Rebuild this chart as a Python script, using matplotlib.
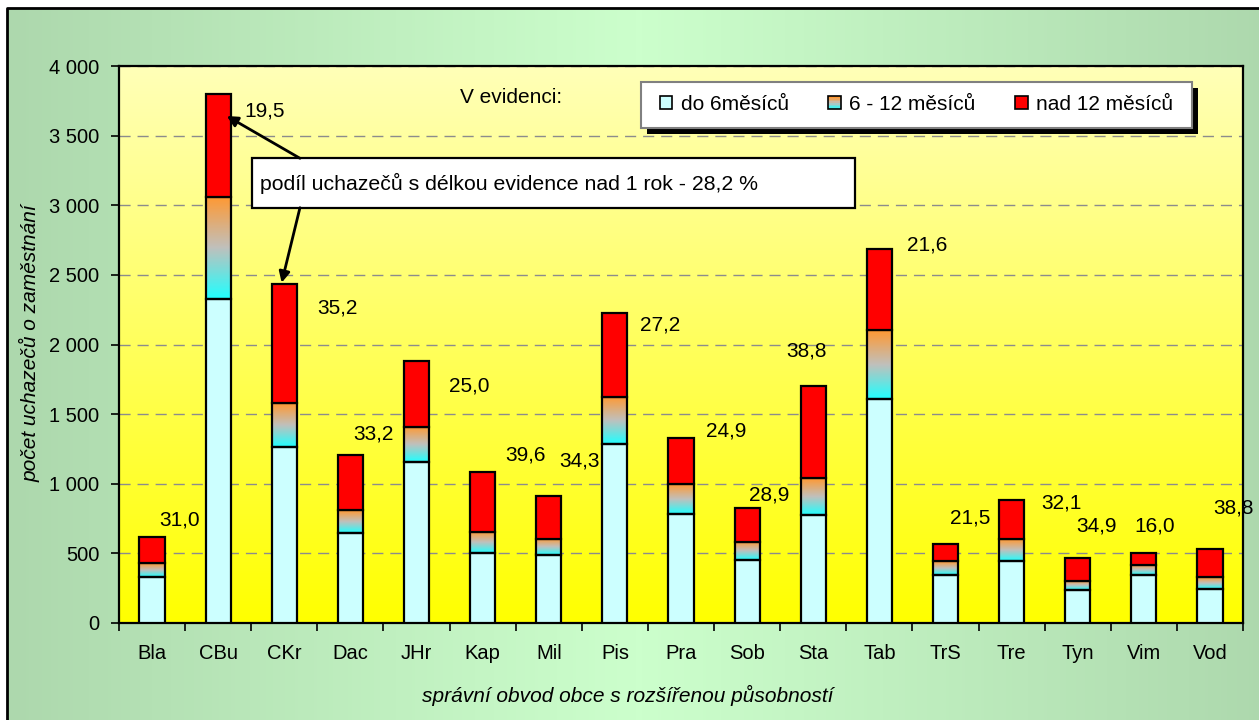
import numpy as np
import matplotlib
matplotlib.use('Agg')
import matplotlib.pyplot as plt
from matplotlib.colors import LinearSegmentedColormap
from matplotlib.patches import Rectangle, Patch
from matplotlib.legend_handler import HandlerBase
import matplotlib.ticker as mticker

plt.rcParams['font.family'] = ['Liberation Sans', 'DejaVu Sans']

# data
obvody = ['Bla', 'CBu', 'CKr', 'Dac', 'JHr', 'Kap', 'Mil', 'Pis', 'Pra',
          'Sob', 'Sta', 'Tab', 'TrS', 'Tre', 'Tyn', 'Vim', 'Vod']
do_6 = [330, 2325, 1265, 645, 1155, 500, 485, 1285, 785, 455, 775, 1610, 345, 445, 235, 345, 245]
m6_12 = [100, 735, 315, 165, 255, 155, 115, 340, 210, 130, 265, 495, 100, 155, 70, 75, 85]
nad_12 = [190, 740, 855, 400, 470, 430, 310, 600, 330, 240, 665, 580, 120, 285, 165, 80, 205]
podil = [31.0, 19.5, 35.2, 33.2, 25.0, 39.6, 34.3, 27.2, 24.9, 28.9, 38.8, 21.6, 21.5, 32.1, 34.9, 16.0, 38.8]
legend_labels = ['do 6měsíců', '6 - 12 měsíců', 'nad 12 měsíců']

# where the percentage labels sit (data coords)
lab_x = [0.42, 1.71, 2.80, 3.35, 4.79, 5.65, 6.46, 7.68, 8.68, 9.34, 9.90, 11.72, 12.37, 13.75, 14.29, 15.16, 16.35]
lab_y = [740, 3677, 2262, 1357, 1704, 1209, 1166, 2140, 1381, 919, 1953, 2715, 752, 860, 699, 699, 824]

W, H = 1259, 720
fig = plt.figure(figsize=(W / 100, H / 100), dpi=100)
fig.patch.set_facecolor('white')

# green background, darker at the sides
green = LinearSegmentedColormap.from_list('g', ['#CCFFCC', '#ADD8AD'])
bg = fig.add_axes([0, 0, 1, 1])
bg.axis('off')
gx = np.abs(np.linspace(-1, 1, 400))[None, :]
bg.imshow(gx, extent=[7 / W, 1.01, -0.01, 1 - 8 / H], cmap=green, aspect='auto')
bg.plot([7 / W, 7 / W, 1.01], [-0.01, 1 - 8 / H, 1 - 8 / H], color='black', lw=2)
bg.set_xlim(0, 1)
bg.set_ylim(0, 1)

ax = fig.add_axes([119 / W, 1 - 623 / H, 1124 / W, 557 / H])
yellow = LinearSegmentedColormap.from_list('y', ['#FFFF00', '#FFFFB8'])
ax.imshow(np.linspace(0, 1, 256)[:, None], extent=[-0.5, 16.5, 0, 4000],
          cmap=yellow, aspect='auto', origin='lower', zorder=0)

mid_cmap = LinearSegmentedColormap.from_list('m', ['#22FFFF', '#C0C0BC', '#FF9933'])
x = np.arange(len(obvody))
w = 0.38
d6 = np.array(do_6)
m12 = np.array(m6_12)
n12 = np.array(nad_12)
grad = np.linspace(0, 1, 64)[:, None]

ax.bar(x, d6, w, color='#CCFFFF', edgecolor='black', lw=1.6, zorder=3)
for i in x:
    ax.imshow(grad, extent=[i - w / 2, i + w / 2, d6[i], d6[i] + m12[i]],
              cmap=mid_cmap, aspect='auto', origin='lower', zorder=2)
ax.bar(x, m12, w, bottom=d6, facecolor='none', edgecolor='black', lw=1.6, zorder=3)
ax.bar(x, n12, w, bottom=d6 + m12, color='#FF0000', edgecolor='black', lw=1.6, zorder=3)

for i in x:
    ax.text(lab_x[i], lab_y[i], f'{podil[i]:.1f}'.replace('.', ','),
            ha='center', va='center', fontsize=15, zorder=6)

ax.set_xlim(-0.5, 16.5)
ax.set_ylim(0, 4000)
ax.set_yticks(range(0, 4001, 500))
ax.yaxis.set_major_formatter(mticker.FuncFormatter(lambda v, p: f'{int(v):,}'.replace(',', ' ')))
ax.set_xticks(x)
ax.set_xticklabels(obvody)
ax.set_xticks(np.arange(-0.5, 17, 1), minor=True)
ax.tick_params(axis='x', which='major', length=0, pad=15, labelsize=14.5)
ax.tick_params(axis='x', which='minor', length=6, width=1.2)
ax.tick_params(axis='y', length=6, width=1.2, pad=8, labelsize=14.5)
ax.yaxis.grid(True, ls=(0, (8, 5)), color='#8C8C8C', lw=1)
ax.set_axisbelow(True)
for s in ax.spines.values():
    s.set_linewidth(1.6)

fig.text(30 / W, 1 - 343 / H, 'počet uchazečů o zaměstnání', rotation=90,
         style='italic', ha='center', va='center', fontsize=15)
fig.text(628 / W, 1 - 695 / H, 'správní obvod obce s rozšířenou působností',
         style='italic', ha='center', va='center', fontsize=15)

ax.text(0.3034, 0.944, 'V evidenci:', transform=ax.transAxes, ha='left',
        va='center', fontsize=15, zorder=6)

# box with the overall share and its two arrows
ax.add_patch(Rectangle((0.1186, 0.7456), 0.5362, 0.0887, transform=ax.transAxes,
                       facecolor='white', edgecolor='black', lw=1.6, zorder=5))
ax.text(0.1254, 0.790, 'podíl uchazečů s délkou evidence nad 1 rok - 28,2 %',
        transform=ax.transAxes, ha='left', va='center', fontsize=15.3, zorder=6)
arrow = dict(arrowstyle='-|>', color='black', lw=2, mutation_scale=16, shrinkA=0, shrinkB=0)
ax.annotate('', xy=(1.13, 3641), xytext=(0.161, 0.8343), textcoords='axes fraction',
            arrowprops=arrow, zorder=6)
ax.annotate('', xy=(1.96, 2444), xytext=(0.161, 0.7456), textcoords='axes fraction',
            arrowprops=arrow, zorder=6)


class GradHandler(HandlerBase):
    def create_artists(self, legend, orig, xd, yd, wd, ht, fontsize, trans):
        n = 8
        cols = mid_cmap(np.linspace(0, 1, n))
        arts = [Rectangle((-xd, -yd + k * ht / n), wd, ht / n, facecolor=cols[k],
                          edgecolor='none', transform=trans) for k in range(n)]
        arts.append(Rectangle((-xd, -yd), wd, ht, facecolor='none', edgecolor='black',
                              lw=1.2, transform=trans))
        return arts


# legend frame with black shadow
lx0, lx1, ly0, ly1 = 641, 1192, 81.7, 127.7
ax.add_patch(Rectangle(((lx0 + 6) / W, 1 - (ly1 + 6) / H), (lx1 - lx0) / W, (ly1 - ly0) / H,
                       transform=fig.transFigure, facecolor='black', edgecolor='none',
                       clip_on=False, zorder=4))
ax.add_patch(Rectangle((lx0 / W, 1 - ly1 / H), (lx1 - lx0) / W, (ly1 - ly0) / H,
                       transform=fig.transFigure, facecolor='white', edgecolor='#808080',
                       lw=1.5, clip_on=False, zorder=4.5))
handles = [Patch(facecolor='#CCFFFF', edgecolor='black', lw=1.2),
           Patch(facecolor='#FF9933'),
           Patch(facecolor='#FF0000', edgecolor='black', lw=1.2)]
leg = ax.legend(handles, legend_labels, ncol=3, frameon=False, fontsize=15,
                loc='center', bbox_to_anchor=((lx0 + lx1) / 2 / W, 1 - (ly0 + ly1) / 2 / H),
                bbox_transform=fig.transFigure, handlelength=0.6, handleheight=0.6,
                handletextpad=0.4, columnspacing=1.9,
                handler_map={handles[1]: GradHandler()})
leg.set_zorder(6)

plt.savefig('out.png', dpi=100)
